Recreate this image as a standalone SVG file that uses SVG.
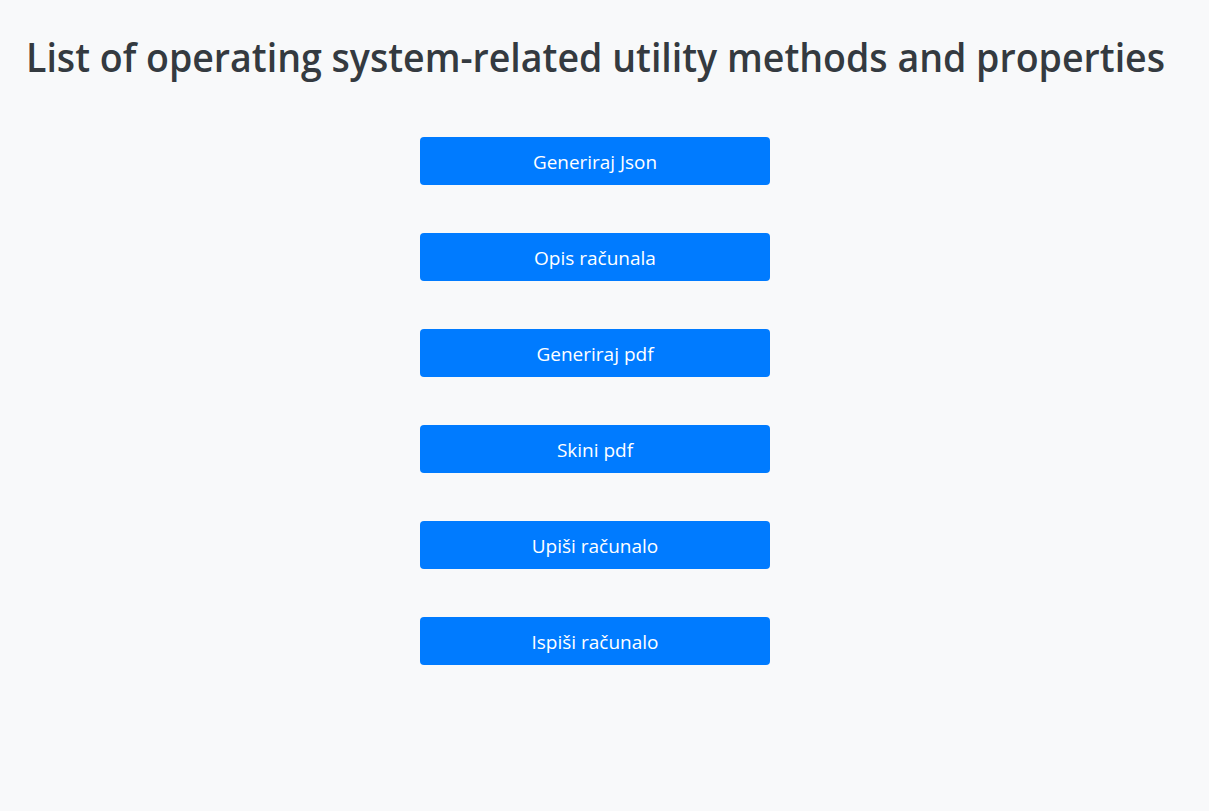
<svg xmlns="http://www.w3.org/2000/svg" width="1209" height="811" viewBox="0 0 1209 811">
<style>
.bg{fill:#f8f9fa}
.btn rect{fill:#007bff}
.btn text{fill:#ffffff;font-family:"Open Sans","Noto Sans","Liberation Sans",sans-serif;font-size:19px;text-anchor:middle}
.title{fill:#343a40;font-family:"Open Sans","Noto Sans","Liberation Sans",sans-serif;font-size:39px;font-weight:600}
</style>
<rect class="bg" x="0" y="0" width="1209" height="811"/>
<text class="title" x="26" y="72" textLength="1139" lengthAdjust="spacingAndGlyphs">List of operating system-related utility methods and properties</text>
<g id="btn1" class="btn"><rect x="420" y="137" width="350" height="48" rx="4"/><text x="595" y="169" textLength="124" lengthAdjust="spacingAndGlyphs">Generiraj Json</text></g>
<g id="btn2" class="btn"><rect x="420" y="233" width="350" height="48" rx="4"/><text x="595" y="265">Opis računala</text></g>
<g id="btn3" class="btn"><rect x="420" y="329" width="350" height="48" rx="4"/><text x="595" y="361">Generiraj pdf</text></g>
<g id="btn4" class="btn"><rect x="420" y="425" width="350" height="48" rx="4"/><text x="595" y="457">Skini pdf</text></g>
<g id="btn5" class="btn"><rect x="420" y="521" width="350" height="48" rx="4"/><text x="595" y="553">Upiši računalo</text></g>
<g id="btn6" class="btn"><rect x="420" y="617" width="350" height="48" rx="4"/><text x="595" y="649">Ispiši računalo</text></g>
<g id="connectors"/>
</svg>
